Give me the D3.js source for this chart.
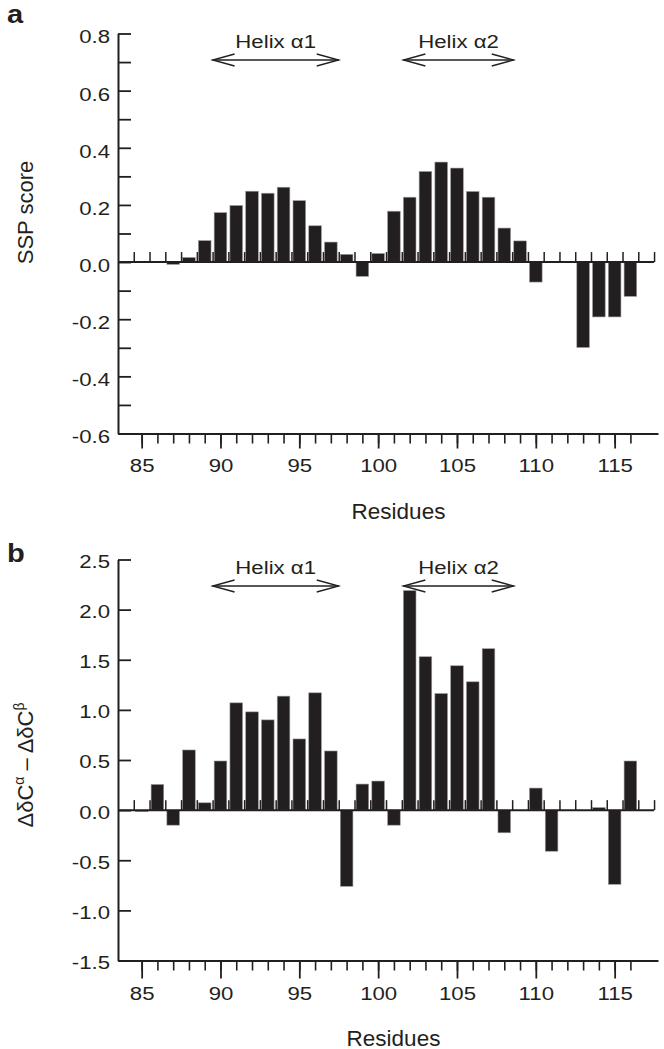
<!DOCTYPE html>
<html><head><meta charset="utf-8">
<script src="https://cdn.jsdelivr.net/npm/d3@7"></script>
<style>
body{margin:0;background:#fff}
svg{display:block;background:#fff}
text{font-family:"Liberation Sans",Arial,Helvetica,sans-serif;fill:#231f20}
</style>
</head><body>
<svg id="chart" width="664" height="1049"></svg>
<script>
// ---------- data ----------
const residues = [85,86,87,88,89,90,91,92,93,94,95,96,97,98,99,100,101,102,103,104,105,106,107,108,109,110,111,112,113,114,115,116];
const sspScore = [null,null,-0.008,0.016,0.075,0.173,0.198,0.248,0.241,0.262,0.215,0.127,0.07,0.027,-0.05,0.03,0.178,0.227,0.317,0.35,0.329,0.247,0.227,0.119,0.074,-0.07,null,null,-0.299,-0.192,-0.192,-0.12];
const chemShift = [-0.015,0.256,-0.15,0.6,0.073,0.49,1.07,0.98,0.9,1.137,0.71,1.17,0.59,-0.76,0.26,0.29,-0.15,2.19,1.53,1.163,1.44,1.28,1.61,-0.226,null,0.22,-0.41,null,null,0.025,-0.74,0.49];
const xMajorTicks = [85,90,95,100,105,110,115];
const xMinorTicks = [85,86,87,88,89,90,91,92,93,94,95,96,97,98,99,100,101,102,103,104,105,106,107,108,109,110,111,112,113,114,115,116];
const zeroLineTicks = [84.5,85.5,86.5,87.5,88.5,89.5,90.5,91.5,92.5,93.5,94.5,95.5,96.5,97.5,98.5,99.5,100.5,101.5,102.5,103.5,104.5,105.5,106.5,107.5,108.5,109.5,110.5,111.5,112.5,113.5,114.5,115.5,116.5,117.5];
const sspTicks = [-0.6,-0.5,-0.4,-0.3,-0.2,-0.1,0,0.1,0.2,0.3,0.4,0.5,0.6,0.7,0.8];
const sspLabelTicks = [-0.6,-0.4,-0.2,0,0.2,0.4,0.6,0.8];
const shiftTicks = [-1.5,-1.0,-0.5,0,0.5,1.0,1.5,2.0,2.5];
const helixNames = ["Helix α1","Helix α2"];
const helixStart = [89.5,101.6];
const helixEnd = [97.5,108.6];

// ---------- drawing ----------
const INK = "#231f20";
const svg = d3.select("#chart");
const x = d3.scaleLinear().domain([83.5,117.75]).range([118,658]);
const barW = 0.8*(x(1)-x(0));
const STRETCH = 1.2;

function styleAxis(g){
  g.attr("color",INK).attr("font-family",null).attr("font-size",null);
  g.selectAll("path.domain").attr("stroke-width",2);
}

function panel(o){
  const g = svg.append("g");
  const y = d3.scaleLinear().domain(o.yDomain).range(o.yRange);
  const y0 = y(0);

  // bars
  g.selectAll("rect.bar")
    .data(residues.map((r,i)=>({r, v:o.values[i]})).filter(d=>d.v!==null))
    .join("rect").attr("class","bar")
    .attr("x",d=>x(d.r)-barW/2).attr("width",barW)
    .attr("y",d=>y(Math.max(0,d.v)))
    .attr("height",d=>Math.max(1,Math.abs(y(d.v)-y0)))
    .attr("fill",INK).attr("stroke","#9a9a9a").attr("stroke-width",0.6);

  // zero line with upward half-residue ticks
  g.append("line").attr("x1",x(83.5)).attr("x2",x(117.5)).attr("y1",y0).attr("y2",y0)
    .attr("stroke",INK).attr("stroke-width",2);
  g.append("g").attr("transform",`translate(0,${y0})`)
    .call(d3.axisTop(x).tickValues(zeroLineTicks).tickSize(10).tickSizeOuter(0).tickFormat(""))
    .call(styleAxis)
    .call(s=>s.select(".domain").remove())
    .call(s=>s.selectAll(".tick line").attr("stroke-width",1.5));

  // bottom axis: minor ticks
  const yb = o.yRange[0];
  g.append("g").attr("transform",`translate(0,${yb})`)
    .call(d3.axisBottom(x).tickValues(xMinorTicks).tickSize(10).tickSizeOuter(0).tickFormat(""))
    .call(styleAxis)
    .call(s=>s.selectAll(".tick line").attr("stroke-width",1.6));
  // bottom axis: major ticks with labels
  g.append("g").attr("transform",`translate(0,${yb})`)
    .call(d3.axisBottom(x).tickValues(xMajorTicks).tickSize(o.majorLen).tickSizeOuter(0).tickPadding(o.xPad).tickFormat(d=>String(d)))
    .call(styleAxis)
    .call(s=>s.select(".domain").remove())
    .call(s=>s.selectAll(".tick line").attr("stroke-width",1.8))
    .call(s=>s.selectAll(".tick text").attr("font-size",18.5).attr("transform",`scale(${STRETCH},1)`).attr("fill",INK));

  // left axis: all ticks inward
  g.append("g").attr("transform",`translate(118,0)`)
    .call(d3.axisLeft(y).tickValues(o.yTicks).tickSize(-13).tickSizeOuter(0).tickFormat(""))
    .call(styleAxis)
    .call(s=>s.selectAll(".tick line").attr("stroke-width",1.8));
  // left axis labels
  g.append("g").attr("transform",`translate(118,0)`)
    .call(d3.axisLeft(y).tickValues(o.yLabelTicks).tickSize(0).tickSizeOuter(0).tickPadding(8).tickFormat(d=>d.toFixed(1)))
    .call(styleAxis)
    .call(s=>s.select(".domain").remove())
    .call(s=>s.selectAll(".tick text").attr("font-size",18.5).attr("fill",INK)
      .attr("x",-8/STRETCH).attr("y",o.yLabelShift)
      .attr("transform",`scale(${STRETCH},1)`));

  // helix annotations
  helixNames.forEach((name,i)=>{
    const xa = x(helixStart[i]), xb = x(helixEnd[i]), ya = o.arrowY;
    g.append("line").attr("x1",xa).attr("x2",xb).attr("y1",ya).attr("y2",ya)
      .attr("stroke",INK).attr("stroke-width",1.3);
    g.append("path").attr("d",`M${xa+22},${ya-6}L${xa},${ya}L${xa+22},${ya+6}`)
      .attr("fill","none").attr("stroke",INK).attr("stroke-width",1.3);
    g.append("path").attr("d",`M${xb-22},${ya-6}L${xb},${ya}L${xb-22},${ya+6}`)
      .attr("fill","none").attr("stroke",INK).attr("stroke-width",1.3);
    g.append("text").attr("transform",`translate(${(xa+xb)/2},${ya-12.5}) scale(${STRETCH},1)`)
      .attr("text-anchor","middle").attr("font-size",18.5).text(name);
  });

  // x title
  g.append("text").attr("x",o.xTitleX).attr("y",yb+85).attr("text-anchor","middle")
    .attr("font-size",22.5).text("Residues");

  // panel letter
  g.append("text").attr("transform",`translate(7,${o.letterY}) scale(1.12,1)`)
    .attr("font-size",26).attr("font-weight","bold").text(o.letter);

  return g;
}

const ga = panel({
  values: sspScore, yDomain:[-0.6,0.8], yRange:[433.5,33.5],
  yTicks: sspTicks, yLabelTicks: sspLabelTicks, yLabelShift: 3.5,
  majorLen: 15, xPad: 10.5, arrowY: 60, xTitleX: 398.5, letter:"a", letterY: 23
});
ga.append("text").attr("transform","translate(33,212.5) rotate(-90)")
  .attr("text-anchor","middle").attr("font-size",22).text("SSP score");

const gb = panel({
  values: chemShift, yDomain:[-1.5,2.5], yRange:[960.5,559.5],
  yTicks: shiftTicks, yLabelTicks: shiftTicks, yLabelShift: 2,
  majorLen: 18, xPad: 8, arrowY: 586, xTitleX: 393.5, letter:"b", letterY: 562
});
const yt = gb.append("text").attr("transform","translate(33,765) rotate(-90)")
  .attr("text-anchor","middle").attr("font-size",22);
yt.append("tspan").text("ΔδC");
yt.append("tspan").attr("font-size",14).attr("dy",-9).text("α");
yt.append("tspan").attr("dy",9).text(" – ΔδC");
yt.append("tspan").attr("font-size",14).attr("dy",-9).text("β");
</script>
</body></html>
